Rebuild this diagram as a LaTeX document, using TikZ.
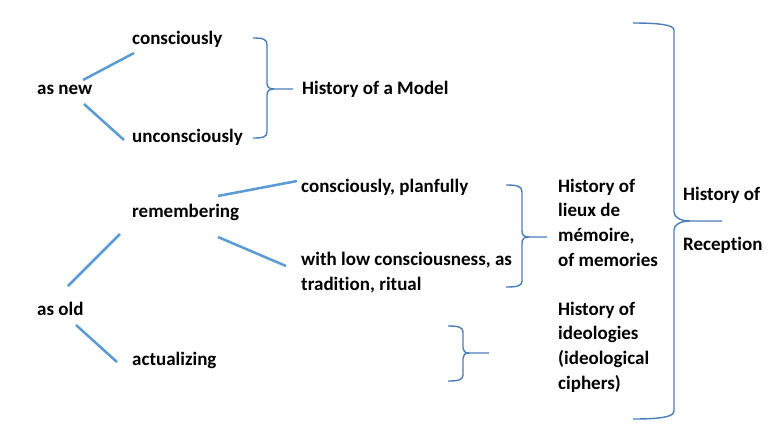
\documentclass[tikz,border=0pt]{standalone}
\usepackage{fontspec}
\setmainfont{Carlito}[Ligatures=NoCommon]
\definecolor{lineblue}{HTML}{5B9BD5}
\definecolor{braceblue}{HTML}{4A7EBB}
\begin{document}
\begin{tikzpicture}[x=1pt,y=-1pt,
  lbl/.style={anchor=base west,inner sep=0pt,font=\fontsize{19}{24.6}\selectfont\bfseries,align=left},
  conn/.style={draw=lineblue,line width=2.5pt},
  brc/.style={draw=braceblue,line width=1.4pt}]
\fill[white] (0,0) rectangle (768,432);
\useasboundingbox (0,0) rectangle (768,432);
% text nodes (multi-line nodes: base = last line)
\node[lbl] (asnew) at (37,94) {as new};
\node[lbl] (cons) at (132,44) {consciously};
\node[lbl] (uncons) at (132,142) {unconsciously};
\node[lbl] (model) at (302,94) {History of a Model};
\node[lbl] (remem) at (132,217) {remembering};
\node[lbl] (plan) at (301,192) {consciously, planfully};
\node[lbl] (low) at (301,290) {with low consciousness, as\\tradition, ritual};
\node[lbl] (lieux) at (558,266) {History of\\lieux de\\mémoire,\\of memories};
\node[lbl] (recep) at (683,250) {History of\\[24.5pt]Reception};
\node[lbl] (asold) at (37,315) {as old};
\node[lbl] (actual) at (132,365) {actualizing};
\node[lbl] (ideo) at (558,389) {History of\\ideologies\\(ideological\\ciphers)};
% connector end points
\coordinate (n1) at (83,80);  \coordinate (c1) at (134,53);
\coordinate (n2) at (84,104); \coordinate (u1) at (124,140);
\coordinate (r1) at (218,196); \coordinate (p1) at (297,181);
\coordinate (r2) at (218,237); \coordinate (l1) at (286,266);
\coordinate (o1) at (68,286); \coordinate (r3) at (120,234);
\coordinate (o2) at (76,325); \coordinate (a1) at (117,362);
% connectors
\draw[conn] (n1) -- (c1);
\draw[conn] (n2) -- (u1);
\draw[conn] (r1) -- (p1);
\draw[conn] (r2) -- (l1);
\draw[conn] (o1) -- (r3);
\draw[conn] (o2) -- (a1);
% braces
\draw[brc] (253,38) .. controls (263,38) and (267,39) .. (267,45) -- (267,83)
  .. controls (267,87) and (269,89) .. (274,89) -- (293,89);
\draw[brc] (274,89) .. controls (269,89) and (267,91) .. (267,95) -- (267,132)
  .. controls (267,137) and (263,138) .. (253,138);
\draw[brc] (506,185) .. controls (517,185) and (522,186) .. (522,192) -- (522,231)
  .. controls (522,235) and (524,237) .. (529,237) -- (547,237);
\draw[brc] (529,237) .. controls (524,237) and (522,239) .. (522,243) -- (522,281)
  .. controls (522,286) and (517,287) .. (506,287);
\draw[brc] (448,326) .. controls (458,326) and (463,327) .. (463,332) -- (463,348)
  .. controls (463,351) and (465,353) .. (469,353) -- (489,353);
\draw[brc] (469,353) .. controls (465,353) and (463,355) .. (463,358) -- (463,375)
  .. controls (463,380) and (458,381) .. (448,381);
\draw[brc] (633,23) .. controls (660,23) and (674,25) .. (674,30) -- (674,212)
  .. controls (674,217) and (680,221) .. (690,221) -- (722,221);
\draw[brc] (690,221) .. controls (680,221) and (674,225) .. (674,230) -- (674,411)
  .. controls (674,417) and (660,419) .. (633,419);
\end{tikzpicture}
\end{document}
